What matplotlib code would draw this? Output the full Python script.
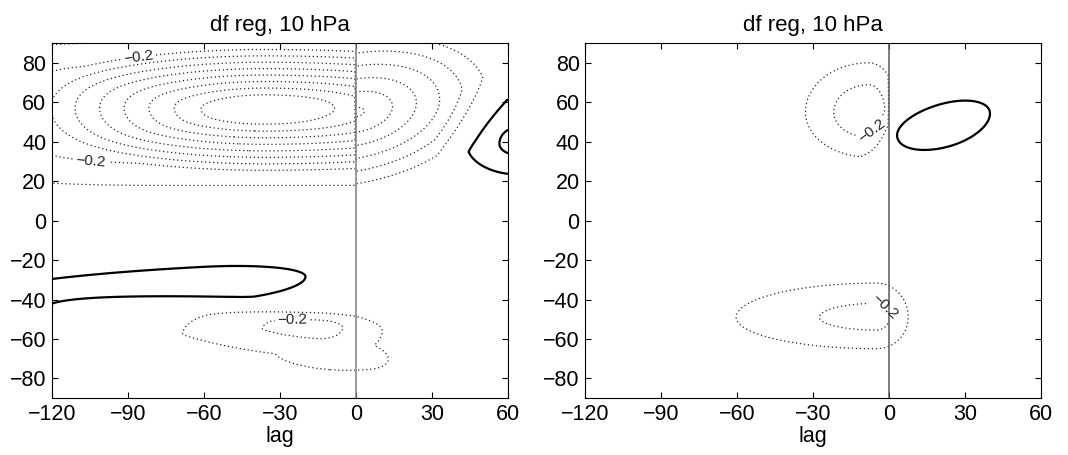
import matplotlib as mpl

mpl.rcParams["font.family"] = ["Liberation Sans", "DejaVu Sans"]
mpl.rcParams["xtick.direction"] = "in"
mpl.rcParams["ytick.direction"] = "in"
mpl.rcParams["xtick.top"] = True
mpl.rcParams["ytick.right"] = True

import matplotlib.pyplot as plt
import numpy as np

# lag / latitude axes
lags = np.linspace(-120, 60, 361)
lats = np.linspace(-90, 90, 361)
xticks = [-120, -90, -60, -30, 0, 30, 60]
yticks = [-80, -60, -40, -20, 0, 20, 40, 60, 80]

neg_levels = [-0.9, -0.8, -0.7, -0.6, -0.5, -0.4, -0.3, -0.1]
label_level = -0.2
pos_levels = [0.1, 0.2, 0.3, 0.4, 0.5]

# regression anomaly centres
# amplitude, lag/lat centre, half-widths (left, right, down, up),
# tilt of the centre line (deg lat per day), shape exponent and
# which lags the anomaly belongs to (-1 negative lags, 1 positive, 0 both)
left_amp = [-0.40, -0.65, 0.15, -0.25, -0.61, 0.24, -0.12]
left_cx = [-50, -36, -60, -16, 0, 64, 6]
left_cy = [55, 57, -31, -53, 55, 39, -72]
left_sxl = [140, 85, 200, 95, 60, 30, 40]
left_sxr = [200, 120, 95, 38, 55, 30, 14]
left_syd = [44, 30, 24, 24, 39, 23, 8]
left_syu = [42, 30, 18, 11, 39, 34, 8]
left_tilt = [0.0, 0.0, 0.065, -0.1, 0.2, 0.0, 0.0]
left_pow = [4, 2, 2, 2, 2, 2, 2]
left_side = [-1, -1, 0, 0, 1, 1, 0]

right_amp = [-0.30, 0.20, -0.25]
right_cx = [-8, 22, -5]
right_cy = [55, 49, -49]
right_sxl = [33, 32, 80]
right_sxr = [15, 30, 18]
right_syd = [30, 20, 23]
right_syu = [33, 18, 25]
right_tilt = [0.0, 0.3, 0.0]
right_pow = [2, 2, 2]
right_side = [-1, 0, 0]

label_pos_left = [(-86, 83), (-105, 28), (-25, -51)]
label_pos_right = [(-8, 48), (-4, -47)]

dotted = [(0, (1, 2.2))]


def build_field(amp, cx, cy, sxl, sxr, syd, syu, tilt, pw, side, e=0.1):
    X, Y = np.meshgrid(lags, lats)
    Z = np.zeros_like(X)
    for a, x0, y0, l, r, d, u, t, p, s in zip(amp, cx, cy, sxl, sxr, syd,
                                              syu, tilt, pw, side):
        dx = X - x0
        dy = Y - (y0 + t * dx)
        sx = np.where(dx < 0, l, r)
        sy = np.where(dy < 0, d, u)
        rr = (np.abs(dx / sx) ** p + np.abs(dy / sy) ** p) ** (1.0 / p)
        bump = a * np.clip(1 + e - np.sqrt(rr**2 + e**2), 0, None)
        if s < 0:
            bump = np.where(X < 0, bump, 0.0)
        elif s > 0:
            bump = np.where(X >= 0, bump, 0.0)
        Z += bump
    return X, Y, Z


def fmt(v):
    return f"{v:.1f}".replace("-", "\u2212")


def draw_panel(ax, field, label_pos, zero_color):
    X, Y, Z = field
    ax.contour(X, Y, Z, levels=neg_levels, colors="0.15",
               linestyles=dotted, linewidths=0.9)
    cs_lab = ax.contour(X, Y, Z, levels=[label_level], colors="0.15",
                        linestyles=dotted, linewidths=0.9)
    ax.contour(X, Y, Z, levels=pos_levels, colors="k", linestyles="solid",
               linewidths=1.6)
    ax.clabel(cs_lab, manual=label_pos, fmt=fmt, fontsize=11,
              inline=True, inline_spacing=3)
    ax.axvline(0, color=zero_color, linewidth=1.1)
    ax.set_xlim(-120, 60)
    ax.set_ylim(-90, 90)
    ax.set_xticks(xticks)
    ax.set_yticks(yticks)
    ax.tick_params(labelsize=15.5, length=4, width=0.8, pad=4)
    ax.set_xlabel("lag", fontsize=15.5, labelpad=1)
    ax.set_title("df reg, 10 hPa", fontsize=16, pad=9)


fig = plt.figure(figsize=(10.68, 4.55), dpi=100)
ax1 = fig.add_axes([0.0487, 0.125, 0.427, 0.780])
ax2 = fig.add_axes([0.548, 0.125, 0.427, 0.780])

draw_panel(ax1, build_field(left_amp, left_cx, left_cy, left_sxl, left_sxr,
                            left_syd, left_syu, left_tilt, left_pow,
                            left_side), label_pos_left, "0.5")
draw_panel(ax2, build_field(right_amp, right_cx, right_cy, right_sxl, right_sxr,
                            right_syd, right_syu, right_tilt, right_pow,
                            right_side), label_pos_right, "0.35")

fig.savefig("out.png", dpi=100)
